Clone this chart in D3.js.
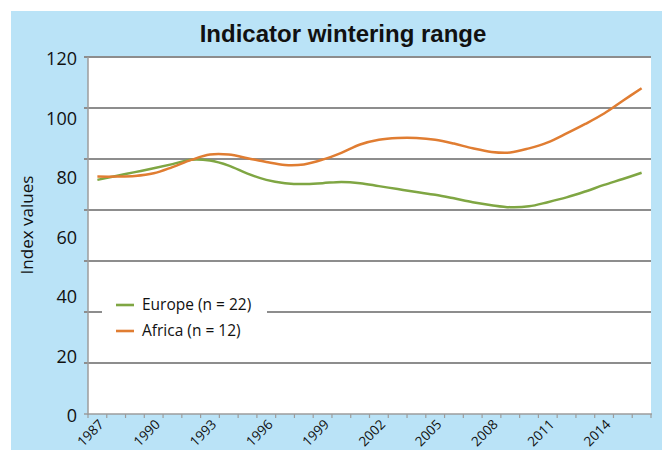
<!DOCTYPE html>
<html><head><meta charset="utf-8">
<script src="https://cdn.jsdelivr.net/npm/d3@7"></script>
<style>html,body{margin:0;padding:0;background:#fff;}svg{display:block;}</style>
</head><body>
<svg id="c" width="662" height="450"></svg>
<script>
const years = d3.range(1987, 2017);
const labelYears = [1987,1990,1993,1996,1999,2002,2005,2008,2011,2014];
const yTickValues = [0,20,40,60,80,100,120];
const seriesNames = ["Europe (n = 22)", "Africa (n = 12)"];
const europe = [78.7,80.0,81.3,82.6,84.0,85.5,85.2,83.5,80.8,78.7,77.6,77.3,77.6,78.0,77.6,76.6,75.6,74.6,73.7,72.5,71.2,70.2,69.5,69.8,71.2,72.8,74.8,77.0,79.0,81.1];
const africa = [79.8,79.8,80.0,80.9,83.0,85.4,87.2,87.2,86.0,84.7,83.7,83.9,85.5,87.8,90.6,92.2,92.8,92.8,92.2,90.9,89.3,88.1,87.9,89.3,91.3,94.3,97.5,101.0,105.3,109.5];
const colors = ["#7fa643", "#e07d32"];

const svg = d3.select("#c");
const L = 88, R = 651, T = 57, B = 414;
const font = "'Open Sans', sans-serif";

// panel background
svg.append("rect").attr("x",11).attr("y",11).attr("width",651).attr("height",439).attr("fill","#bae3f7");
svg.append("rect").attr("x",L).attr("y",T).attr("width",R-L).attr("height",B-T).attr("fill","#fff");

const x = d3.scaleBand().domain(years).range([L, R]).padding(0);
const y = d3.scaleLinear().domain([0,120]).range([B, T]);
const bw = x.bandwidth();

// gridlines (7 equal divisions)
const gridVals = d3.range(1,8).map(i => i*120/7);
svg.append("g").selectAll("line").data(gridVals).join("line")
  .attr("x1", L-4).attr("x2", R)
  .attr("y1", d => y(d)).attr("y2", d => y(d))
  .attr("stroke","#8d8d8d").attr("stroke-width",2);

// y axis line
svg.append("line").attr("x1",L).attr("x2",L).attr("y1",T).attr("y2",B+1)
  .attr("stroke","#9c9c9c").attr("stroke-width",1.5);
// x axis line
svg.append("line").attr("x1",L-4).attr("x2",R+1).attr("y1",B).attr("y2",B)
  .attr("stroke","#9c9c9c").attr("stroke-width",1.5);
// x tick marks at category boundaries
const bounds = years.map(d => x(d)).concat([x(years[years.length-1]) + bw]);
svg.append("g").selectAll("line").data(bounds).join("line")
  .attr("x1", d => d).attr("x2", d => d).attr("y1", B).attr("y2", B+4)
  .attr("stroke","#9c9c9c").attr("stroke-width",1.2);

// y axis labels
const yAxis = svg.append("g").attr("transform", `translate(${L},0)`)
  .call(d3.axisLeft(y).tickValues(yTickValues).tickSize(0).tickPadding(11));
yAxis.select(".domain").remove();
yAxis.selectAll("text").attr("font-family", font).attr("font-size", 18).attr("fill","#111").attr("dy","0.42em");

// x axis labels
const xAxis = svg.append("g").attr("transform", `translate(0,${B})`)
  .call(d3.axisBottom(x).tickValues(labelYears).tickSize(0).tickPadding(0));
xAxis.select(".domain").remove();
xAxis.selectAll("text")
  .attr("font-family", font).attr("font-size", 13.5).attr("fill","#111")
  .attr("text-anchor","end")
  .attr("transform","translate(4,8) rotate(-45)")
  .attr("dy","0.35em").attr("y",0);

// lines
const line = d3.line().x((d,i) => x(years[i]) + bw/2).y(d => y(d)).curve(d3.curveCatmullRom.alpha(0.5));
[europe, africa].forEach((s,k) => {
  svg.append("path").datum(s).attr("d", line).attr("fill","none")
    .attr("stroke", colors[k]).attr("stroke-width", 2.5).attr("stroke-linejoin","round");
});

// legend
svg.append("rect").attr("x",102).attr("y",292).attr("width",165).attr("height",52).attr("fill","#fff");
const lg = svg.append("g").selectAll("g").data(seriesNames).join("g")
  .attr("transform", (d,i) => `translate(116,${305 + i*26})`);
lg.append("line").attr("x1",0).attr("x2",18).attr("y1",0).attr("y2",0)
  .attr("stroke",(d,i)=>colors[i]).attr("stroke-width",2.6);
lg.append("text").attr("x",26).attr("y",0).attr("dy","0.35em")
  .attr("font-family", font).attr("font-size",15.5).attr("fill","#111").text(d=>d);

// y title
svg.append("text").attr("transform","translate(33,225) rotate(-90)")
  .attr("text-anchor","middle").attr("font-family", font).attr("font-size",17).attr("fill","#111")
  .text("Index values");

// title
svg.append("text").attr("x",343).attr("y",42).attr("text-anchor","middle")
  .attr("font-family","'Liberation Sans Narrow', 'Liberation Sans', sans-serif").attr("font-weight","bold")
  .attr("font-size",24).attr("fill","#111").text("Indicator wintering range");
</script>
</body></html>
